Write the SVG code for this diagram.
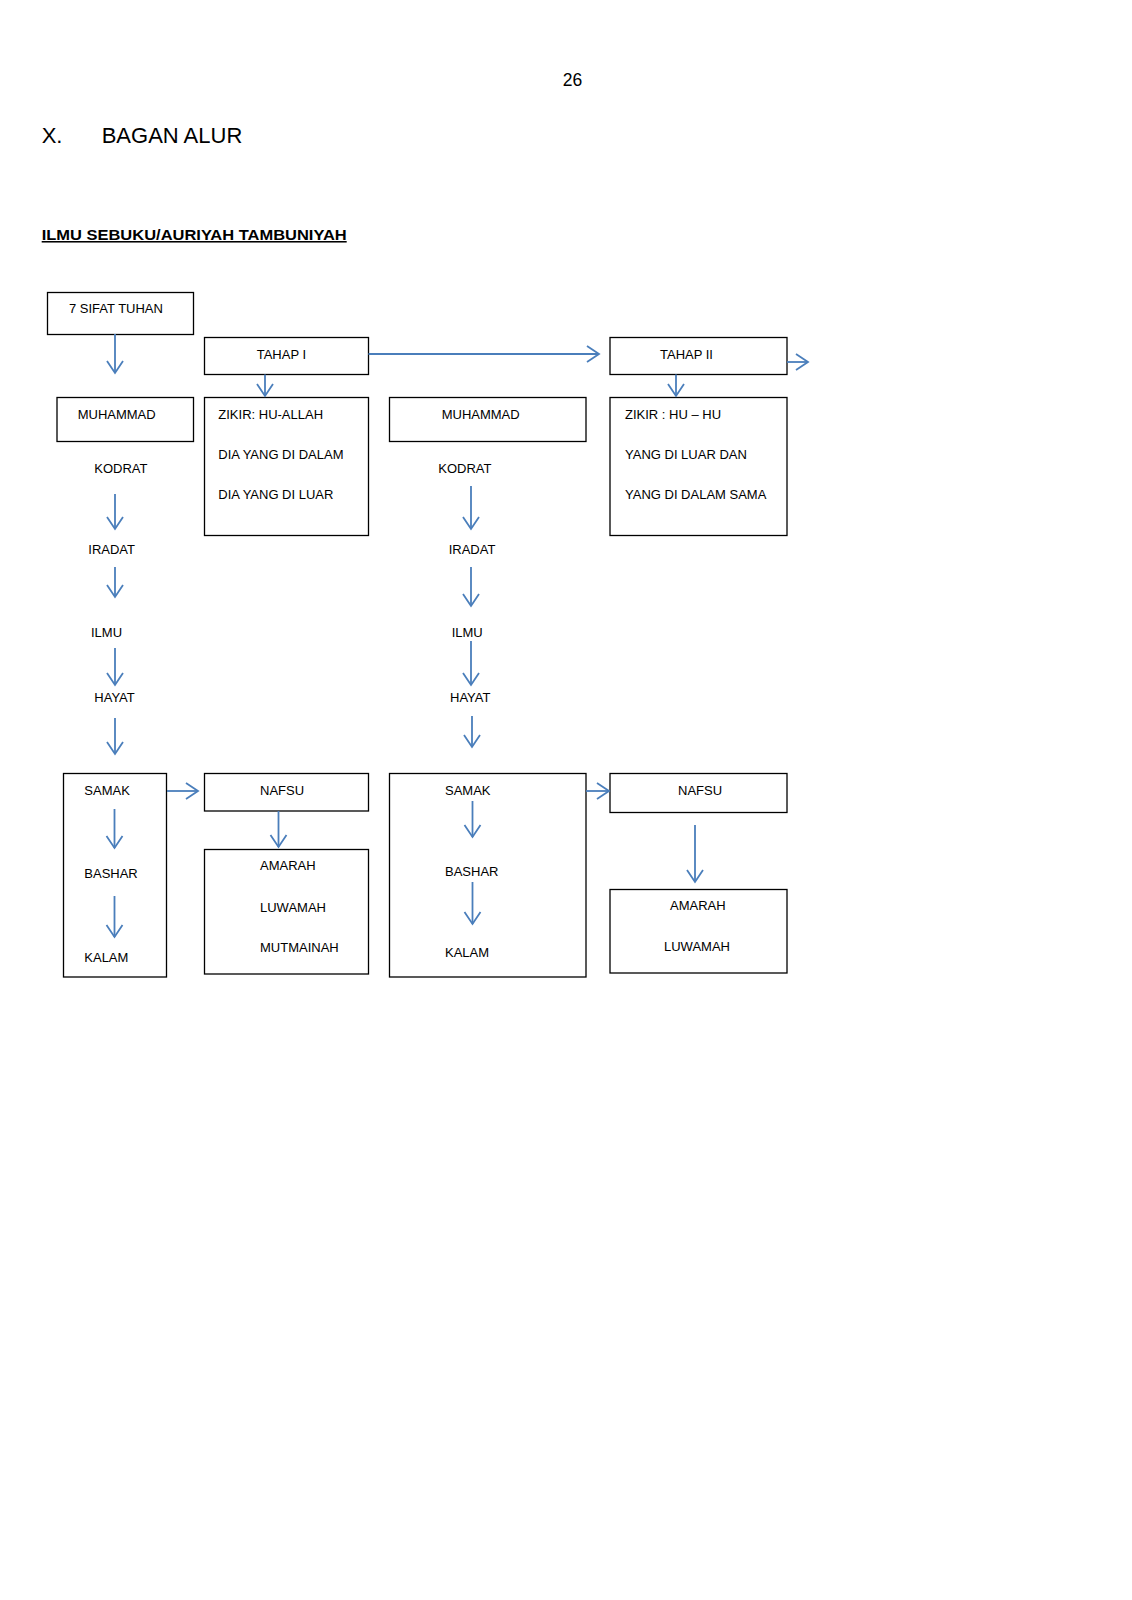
<svg xmlns="http://www.w3.org/2000/svg" width="1132" height="1600" viewBox="0 0 1132 1600">
<style>
  text { font-family: "Liberation Sans", Arial, sans-serif; fill: #000; }
  .t { font-size: 13px; }
  .box { fill: none; stroke: #000; stroke-width: 1.3; }
  .c { stroke: #4A7EBB; stroke-width: 1.8; fill: none; marker-end: url(#ah); }
</style>
<defs>
  <marker id="ah" markerUnits="userSpaceOnUse" viewBox="-14 -10 16 20" refX="0" refY="0" markerWidth="16" markerHeight="20" orient="auto">
    <path d="M-12,-8 L0,0 L-12,8" fill="none" stroke="#4A7EBB" stroke-width="1.8"/>
  </marker>
</defs>
<rect width="1132" height="1600" fill="#fff"/>

<g id="header">
  <text x="572.5" y="86" font-size="17.5" text-anchor="middle">26</text>
  <text x="41.7" y="142.7" font-size="22">X.</text>
  <text x="101.7" y="142.7" font-size="21.8" textLength="140.6" lengthAdjust="spacingAndGlyphs">BAGAN ALUR</text>
  <text x="41.7" y="240" font-size="15.5" font-weight="bold" text-decoration="underline" textLength="305" lengthAdjust="spacingAndGlyphs">ILMU SEBUKU/AURIYAH TAMBUNIYAH</text>
</g>

<g id="n-sifat"><rect class="box" x="47.5" y="292.5" width="146" height="42"/><text class="t" x="69" y="313">7 SIFAT TUHAN</text></g>
<g id="n-tahap1"><rect class="box" x="204.5" y="337.5" width="164" height="37"/><text class="t" x="256.7" y="359">TAHAP I</text></g>
<g id="n-tahap2"><rect class="box" x="610" y="337.5" width="177" height="37"/><text class="t" x="660" y="359">TAHAP II</text></g>
<g id="n-muhammad1"><rect class="box" x="57" y="397.5" width="136.5" height="44"/><text class="t" x="77.7" y="419">MUHAMMAD</text></g>
<g id="n-zikir1"><rect class="box" x="204.5" y="397.5" width="164" height="138"/>
  <text class="t" x="218.3" y="419">ZIKIR: HU-ALLAH</text>
  <text class="t" x="218.3" y="459">DIA YANG DI DALAM</text>
  <text class="t" x="218.3" y="499">DIA YANG DI LUAR</text></g>
<g id="n-muhammad2"><rect class="box" x="389.5" y="397.5" width="196.5" height="44"/><text class="t" x="441.7" y="419">MUHAMMAD</text></g>
<g id="n-zikir2"><rect class="box" x="610" y="397.5" width="177" height="138"/>
  <text class="t" x="625" y="419">ZIKIR : HU – HU</text>
  <text class="t" x="625" y="459">YANG DI LUAR DAN</text>
  <text class="t" x="625" y="499">YANG DI DALAM SAMA</text></g>

<g id="n-kodrat1"><text class="t" x="94.3" y="473">KODRAT</text></g>
<g id="n-iradat1"><text class="t" x="88.3" y="554">IRADAT</text></g>
<g id="n-ilmu1"><text class="t" x="91" y="637">ILMU</text></g>
<g id="n-hayat1"><text class="t" x="94.3" y="702">HAYAT</text></g>
<g id="n-kodrat2"><text class="t" x="438.3" y="473">KODRAT</text></g>
<g id="n-iradat2"><text class="t" x="448.7" y="554">IRADAT</text></g>
<g id="n-ilmu2"><text class="t" x="451.7" y="637">ILMU</text></g>
<g id="n-hayat2"><text class="t" x="450" y="702">HAYAT</text></g>

<g id="n-samak1"><rect class="box" x="63.5" y="773.5" width="103" height="203.5"/>
  <text class="t" x="84.3" y="795">SAMAK</text>
  <text class="t" x="84.3" y="878">BASHAR</text>
  <text class="t" x="84.3" y="962">KALAM</text></g>
<g id="n-nafsu1"><rect class="box" x="204.5" y="773.5" width="164" height="37.5"/><text class="t" x="260" y="795">NAFSU</text></g>
<g id="n-amarah1"><rect class="box" x="204.5" y="849.5" width="164" height="124.5"/>
  <text class="t" x="260" y="870">AMARAH</text>
  <text class="t" x="260" y="912">LUWAMAH</text>
  <text class="t" x="260" y="952">MUTMAINAH</text></g>
<g id="n-samak2"><rect class="box" x="389.5" y="773.5" width="196.5" height="203.5"/>
  <text class="t" x="445" y="795">SAMAK</text>
  <text class="t" x="445" y="876">BASHAR</text>
  <text class="t" x="445" y="957">KALAM</text></g>
<g id="n-nafsu2"><rect class="box" x="610" y="773.5" width="177" height="39"/><text class="t" x="678" y="795">NAFSU</text></g>
<g id="n-amarah2"><rect class="box" x="610" y="889.5" width="177" height="83.5"/>
  <text class="t" x="670" y="910">AMARAH</text>
  <text class="t" x="664" y="951">LUWAMAH</text></g>

<g id="connectors">
  <line class="c" x1="115" y1="334" x2="115" y2="373"/>
  <line class="c" x1="265" y1="374.5" x2="265" y2="396"/>
  <line class="c" x1="368.5" y1="354" x2="599" y2="354"/>
  <line class="c" x1="787" y1="362" x2="808" y2="362"/>
  <line class="c" x1="676" y1="374.5" x2="676" y2="396"/>
  <line class="c" x1="115" y1="494" x2="115" y2="529"/>
  <line class="c" x1="115" y1="567" x2="115" y2="597"/>
  <line class="c" x1="115" y1="648" x2="115" y2="685"/>
  <line class="c" x1="115" y1="718" x2="115" y2="754"/>
  <line class="c" x1="471" y1="486" x2="471" y2="529"/>
  <line class="c" x1="471" y1="567" x2="471" y2="606"/>
  <line class="c" x1="471" y1="641" x2="471" y2="685"/>
  <line class="c" x1="472" y1="716" x2="472" y2="747"/>
  <line class="c" x1="114.5" y1="809" x2="114.5" y2="848"/>
  <line class="c" x1="114.5" y1="896" x2="114.5" y2="937"/>
  <line class="c" x1="167" y1="791" x2="198" y2="791"/>
  <line class="c" x1="278.5" y1="811" x2="278.5" y2="847"/>
  <line class="c" x1="472.5" y1="801" x2="472.5" y2="837"/>
  <line class="c" x1="472.5" y1="882" x2="472.5" y2="924"/>
  <line class="c" x1="586" y1="791" x2="609" y2="791"/>
  <line class="c" x1="695" y1="825" x2="695" y2="882"/>
</g>
</svg>
